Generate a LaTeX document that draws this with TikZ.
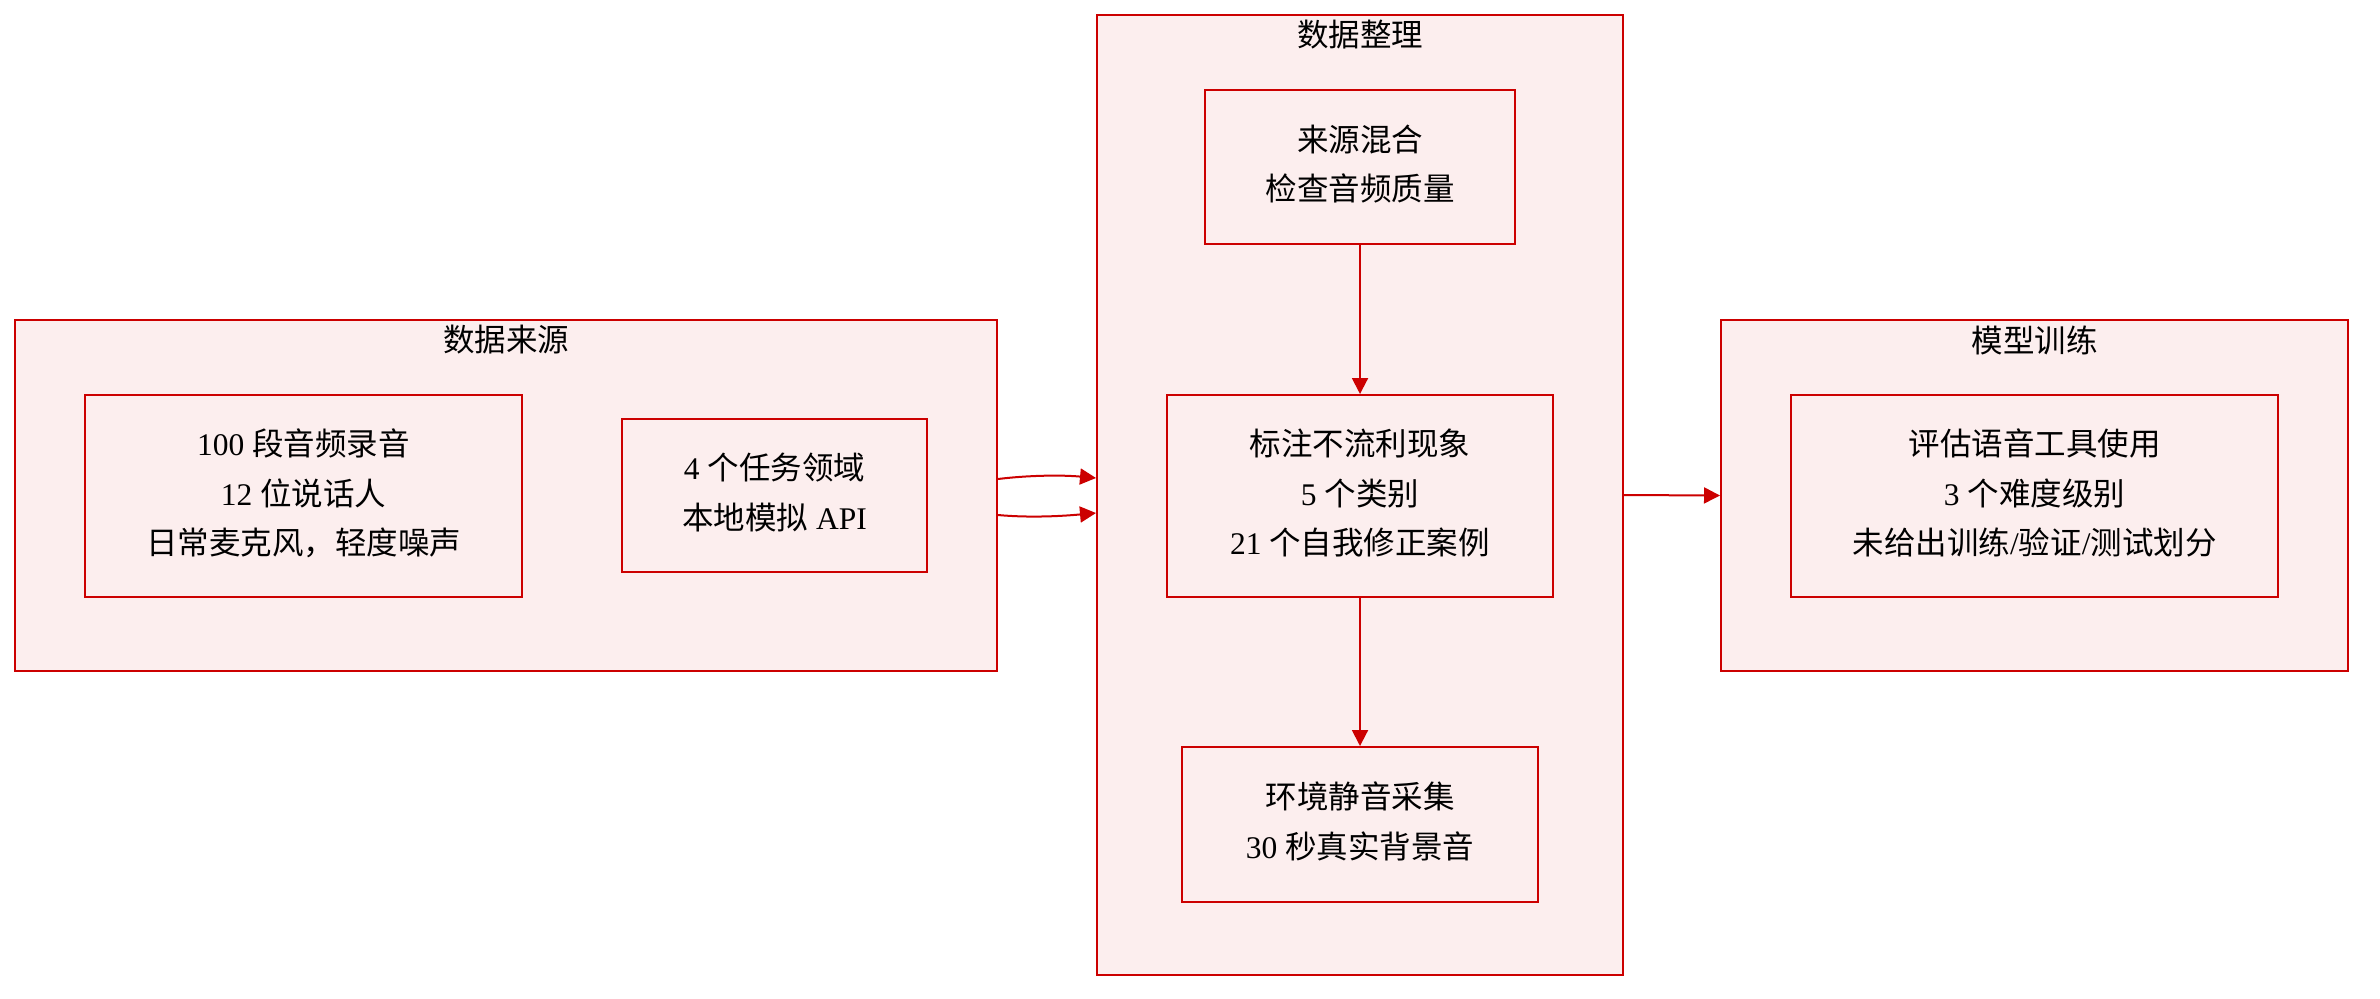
\documentclass[tikz,border=0pt]{standalone}
\usepackage{fontspec}
\setmainfont{Liberation Serif}
\newfontfamily\cjk{Noto Sans CJK SC}
\usetikzlibrary{arrows.meta}
\definecolor{edgered}{RGB}{204,0,0}
\definecolor{boxbg}{RGB}{252,238,238}
\newcommand{\zh}[1]{{\cjk #1}}
\renewcommand{\arraystretch}{1.03}
\newcommand{\boxlines}[1]{\raisebox{0.5pt}[\height][\depth]{\begin{tabular}{@{}c@{}}#1\end{tabular}}}
\begin{document}
\begin{tikzpicture}[x=0.5pt,y=-0.5pt,
  boxstyle/.style={draw=edgered, fill=boxbg, line width=1pt, inner sep=0pt, align=center,
    font=\fontsize{15.75}{24.25}\selectfont},
  titlestyle/.style={inner sep=0pt, font=\fontsize{15.75}{24.25}\selectfont},
  conn/.style={draw=edgered, line width=1pt, -{Triangle[length=8pt,width=8pt]}}]
\path[fill=white, use as bounding box] (0,0) rectangle (2380,998);
% containers
\node[boxstyle, minimum width=491pt, minimum height=175.5pt] (src) at (506,495.5) {};
\node[boxstyle, minimum width=263pt, minimum height=480pt] (proc) at (1360,495) {};
\node[boxstyle, minimum width=313.5pt, minimum height=175.5pt] (train) at (2034.5,495.5) {};
\node[titlestyle] (srct) at (506,340) {\zh{数据来源}};
\node[titlestyle] (proct) at (1360,35) {\zh{数据整理}};
\node[titlestyle] (traint) at (2034.5,340) {\zh{模型训练}};
% inner boxes
\node[boxstyle, minimum width=218.5pt, minimum height=101pt] (rec) at (303.5,496)
  {\boxlines{100 \zh{段音频录音}\\12 \zh{位说话人}\\\zh{日常麦克风，轻度噪声}}};
\node[boxstyle, minimum width=152.5pt, minimum height=76.5pt] (task) at (774.5,495.5)
  {\boxlines{4 \zh{个任务领域}\\\zh{本地模拟} API}};
\node[boxstyle, minimum width=155pt, minimum height=77pt] (mix) at (1360,167)
  {\boxlines{\zh{来源混合}\\\zh{检查音频质量}}};
\node[boxstyle, minimum width=193pt, minimum height=101pt] (ann) at (1360,496)
  {\boxlines{\zh{标注不流利现象}\\5 \zh{个类别}\\21 \zh{个自我修正案例}}};
\node[boxstyle, minimum width=178pt, minimum height=77.5pt] (env) at (1360,824.5)
  {\boxlines{\zh{环境静音采集}\\30 \zh{秒真实背景音}}};
\node[boxstyle, minimum width=243.5pt, minimum height=101pt] (eval) at (2034.5,496)
  {\boxlines{\zh{评估语音工具使用}\\3 \zh{个难度级别}\\\zh{未给出训练}/\zh{验证}/\zh{测试划分}}};
% connectors
\draw[conn] ([yshift=8.25pt]src.east) .. controls +(33,-4) and +(-33,-3) .. ([yshift=8.5pt]proc.west);
\draw[conn] ([yshift=-9.75pt]src.east) .. controls +(33,3) and +(-33,3) .. ([yshift=-9pt]proc.west);
\draw[conn] (proc.east) -- (train.west);
\draw[conn] (mix.south) -- (ann.north);
\draw[conn] (ann.south) -- (env.north);
\end{tikzpicture}
\end{document}
